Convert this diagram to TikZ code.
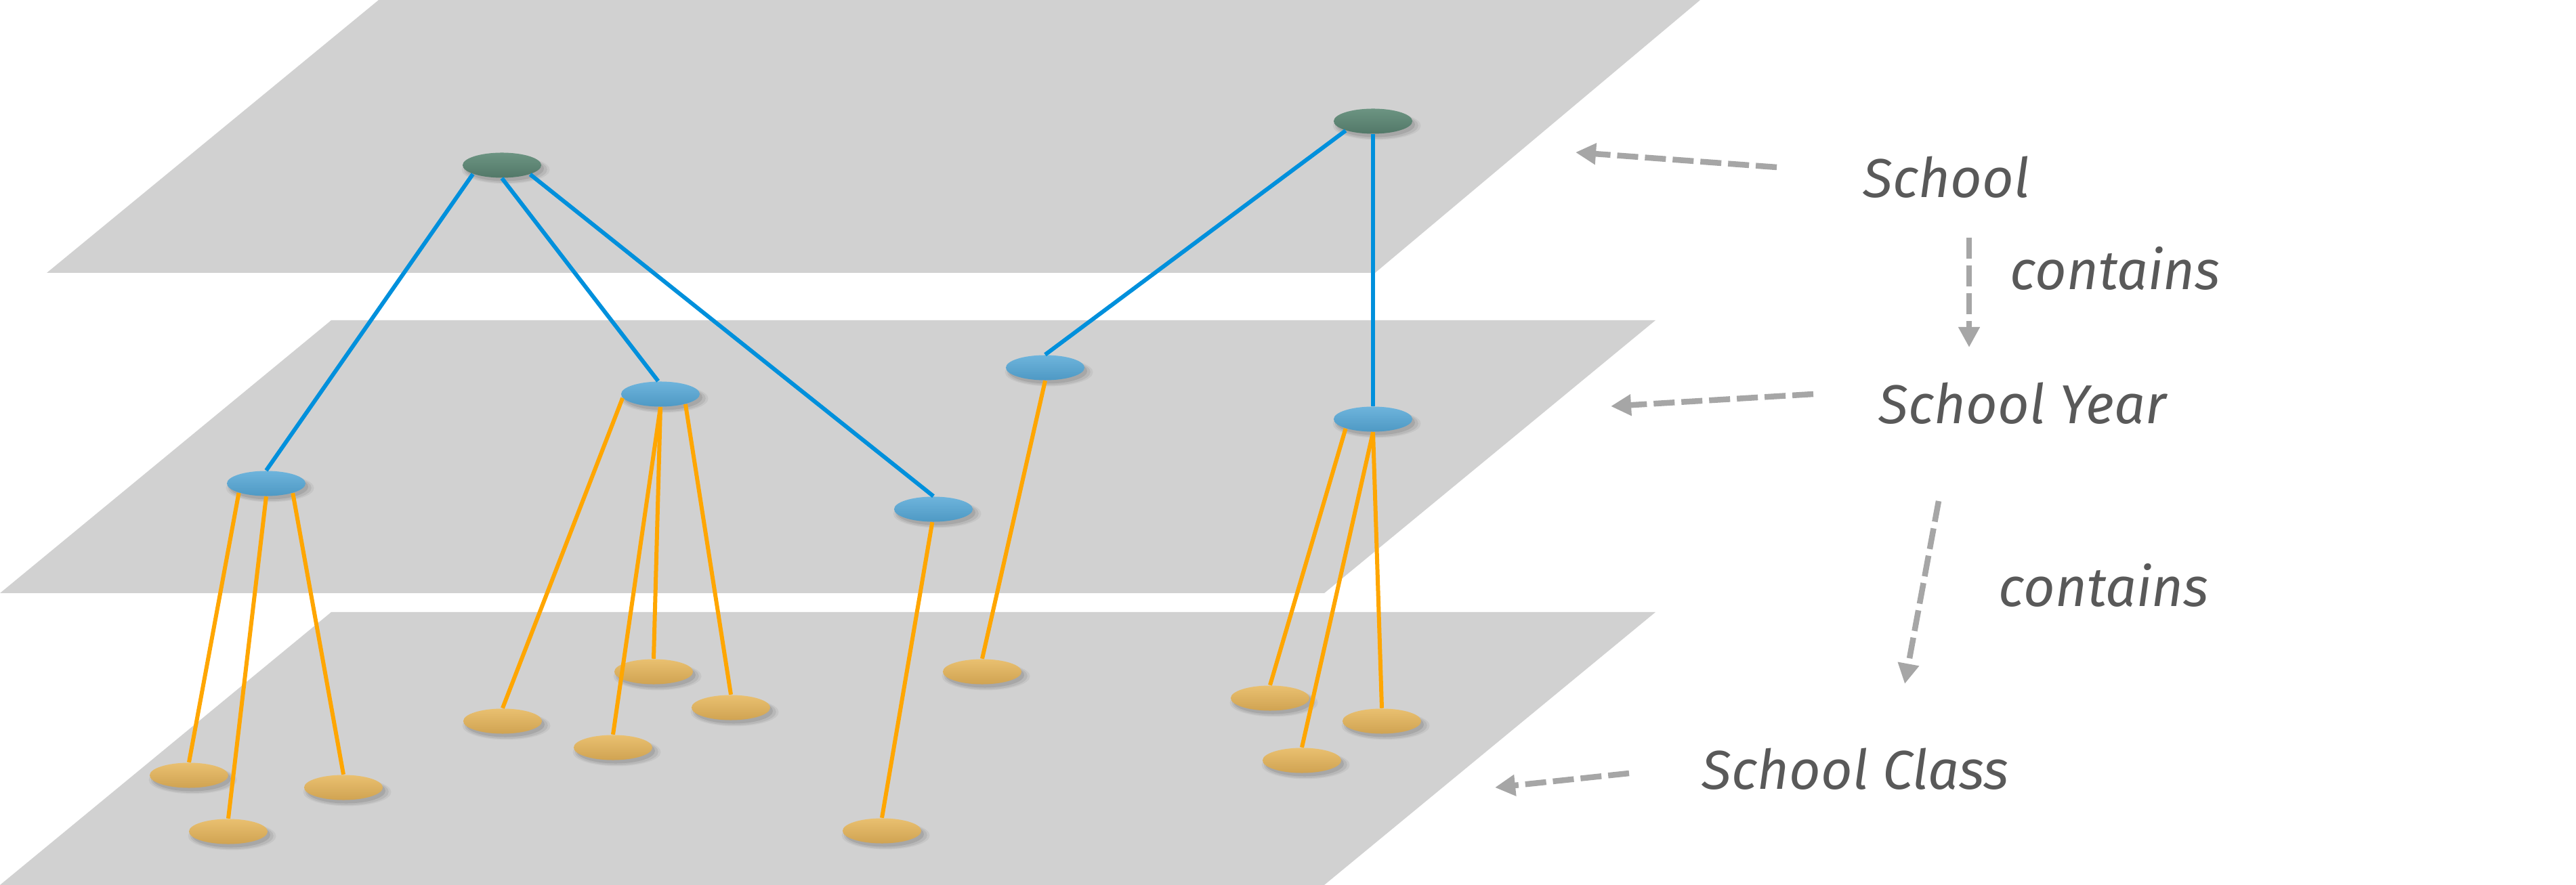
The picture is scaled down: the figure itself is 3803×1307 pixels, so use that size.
\documentclass[tikz,border=0pt]{standalone}
\usepackage{fontspec}
\newfontfamily\hand{Fira Sans}
\usetikzlibrary{shapes.geometric,shadows,arrows.meta}
\definecolor{plane}{RGB}{209,209,209}
\definecolor{linkblue}{RGB}{0,144,220}
\definecolor{linkorange}{RGB}{255,166,0}
\definecolor{schooltop}{RGB}{108,148,130}
\definecolor{schoolbot}{RGB}{82,120,104}
\definecolor{yeartop}{RGB}{110,180,220}
\definecolor{yearbot}{RGB}{78,153,196}
\definecolor{classtop}{RGB}{233,192,112}
\definecolor{classbot}{RGB}{208,163,82}
\definecolor{arrowgray}{RGB}{166,166,166}
\definecolor{textgray}{RGB}{89,89,89}
\begin{document}
\begin{tikzpicture}[x=0.01cm,y=-0.01cm,
  blob/.style={ellipse, minimum width=1.16cm, minimum height=0.37cm, inner sep=0pt,
    drop shadow={shadow xshift=0.05cm, shadow yshift=-0.06cm, shadow scale=1.12, opacity=0.05, fill=black},
    drop shadow={shadow xshift=0.05cm, shadow yshift=-0.06cm, shadow scale=1.06, opacity=0.07, fill=black},
    drop shadow={shadow xshift=0.04cm, shadow yshift=-0.05cm, shadow scale=1.0, opacity=0.09, fill=black}},
  schoolnode/.style={blob, top color=schooltop, bottom color=schoolbot},
  yearnode/.style={blob, top color=yeartop, bottom color=yearbot},
  classnode/.style={blob, top color=classtop, bottom color=classbot},
  link/.style={line width=0.06cm},
  bluelink/.style={link, draw=linkblue},
  orangelink/.style={link, draw=linkorange},
  hint/.style={draw=arrowgray, line width=0.085cm, dash pattern=on 0.31cm off 0.1cm,
    -{Triangle[length=0.3cm,width=0.3cm]}},
  lbl/.style={font=\hand\itshape\fontsize{23}{28}\selectfont, text=textgray, inner sep=0pt, anchor=base west}
]
\fill[white] (0,0) rectangle (3803,1307);
\useasboundingbox (0,0) rectangle (3803,1307);

% planes
\fill[plane] (559,0) -- (2510,0) -- (2030,403) -- (69,403) -- cycle;
\fill[plane] (489,473) -- (2444,473) -- (1955,876) -- (0,876) -- cycle;
\fill[plane] (489,904) -- (2444,904) -- (1955,1307) -- (0,1307) -- cycle;

% school nodes
\node[schoolnode] (A) at (741,244) {};
\node[schoolnode] (B) at (2027,179) {};
% year nodes
\node[yearnode] (Y1) at (393,714) {};
\node[yearnode] (Y2) at (975,582) {};
\node[yearnode] (Y3) at (1378,752) {};
\node[yearnode] (Y4) at (1543,543) {};
\node[yearnode] (Y5) at (2027,619) {};
% class nodes
\node[classnode] (C1) at (279,1145) {};
\node[classnode] (C2) at (337,1228) {};
\node[classnode] (C3) at (507,1163) {};
\node[classnode] (C4) at (742,1065) {};
\node[classnode] (C5) at (905,1104) {};
\node[classnode] (C6) at (965,992) {};
\node[classnode] (C7) at (1079,1045) {};
\node[classnode] (C8) at (1302,1227) {};
\node[classnode] (C9) at (1450,992) {};
\node[classnode] (C10) at (1875,1031) {};
\node[classnode] (C11) at (1922,1123) {};
\node[classnode] (C12) at (2040,1065) {};

% blue links
\draw[bluelink] (A.197) -- (Y1.north);
\draw[bluelink] (A.south) -- (Y2.100);
\draw[bluelink] (A.342) -- (Y3.north);
\draw[bluelink] (B.199) -- (Y4.north);
\draw[bluelink] (B.south) -- (Y5.north);

% orange links
\draw[orangelink] (Y1.199) -- (C1.north);
\draw[orangelink] (Y1.south) -- (C2.north);
\draw[orangelink] (Y1.340) -- (C3.north);
\draw[orangelink] (Y2.186) -- (C4.north);
\draw[orangelink] (Y2.south) -- (C5.north);
\draw[orangelink] (Y2.south) -- (C6.north);
\draw[orangelink] (Y2.338) -- (C7.north);
\draw[orangelink] (Y3.265) -- (C8.north);
\draw[orangelink] (Y4.south) -- (C9.north);
\draw[orangelink] (Y5.199) -- (C10.north);
\draw[orangelink] (Y5.south) -- (C11.north);
\draw[orangelink] (Y5.south) -- (C12.north);

% labels
\node[lbl] (Lschool) at (2750,292) {School};
\node[lbl] (Lcont1) at (2967,428) {contains};
\node[lbl] (Lyear) at (2773,626) {School Year};
\node[lbl] (Lcont2) at (2950,896) {contains};
\node[lbl] (Lclass) at (2512,1165) {School Class};

% arrow end points
\coordinate (a1s) at (2623,247);
\coordinate (a1t) at (2326,225);
\coordinate (a2s) at (2677,582);
\coordinate (a2t) at (2378,600);
\coordinate (a3s) at (2405,1142);
\coordinate (a3t) at (2207,1163);
\coordinate (c1s) at (2907,351);
\coordinate (c1t) at (2907,513);
\coordinate (c2s) at (2862,740);
\coordinate (c2t) at (2812,1010);

\draw[hint] (a1s) -- (a1t);
\draw[hint] (a2s) -- (a2t);
\draw[hint] (a3s) -- (a3t);
\draw[hint] (c1s) -- (c1t);
\draw[hint] (c2s) -- (c2t);
\end{tikzpicture}
\end{document}
